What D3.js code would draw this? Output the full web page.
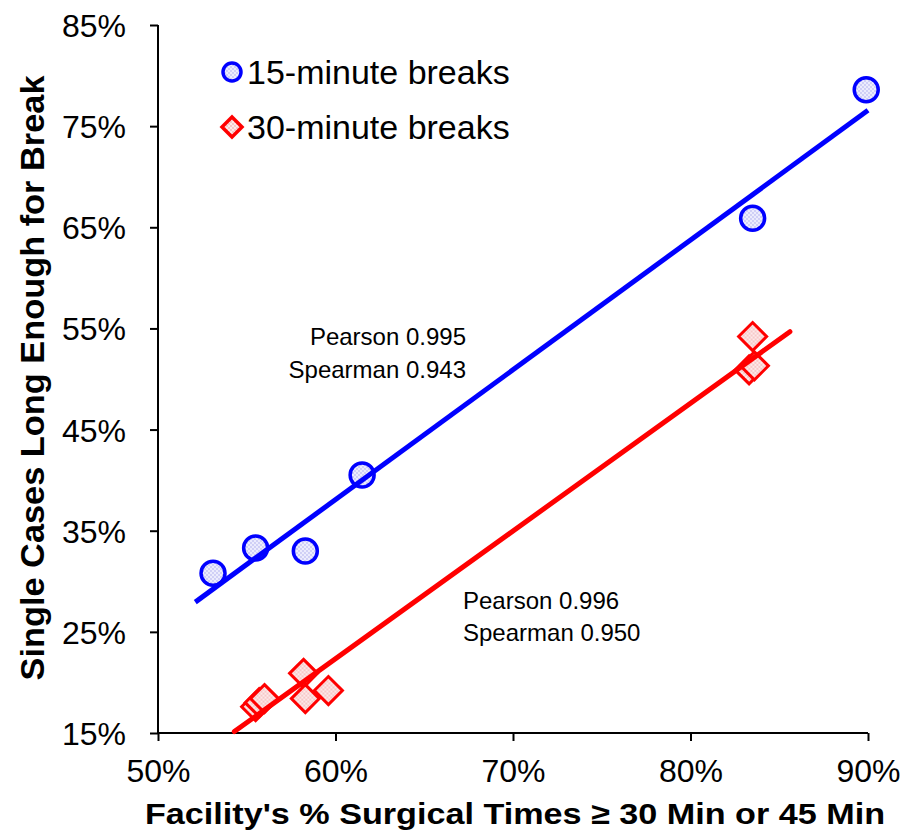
<!DOCTYPE html>
<html>
<head>
<meta charset="utf-8">
<script src="https://cdn.jsdelivr.net/npm/d3@7"></script>
<style>
  body { margin: 0; background: #fff; }
  text { font-family: "Liberation Sans", Arial, sans-serif; }
</style>
</head>
<body>
<div id="chart"></div>
<script>
// facility % of surgical times >= threshold (x) vs single cases long enough (y)
var x15 = [53.1, 55.5, 58.3, 61.5, 83.5, 89.9];
var y15 = [30.8, 33.3, 33.0, 40.5, 65.9, 78.6];
var x30 = [55.5, 55.7, 56.0, 58.2, 58.3, 59.6, 83.5, 83.3, 83.6];
var y30 = [17.6, 18.0, 18.4, 20.9, 18.4, 19.2, 54.2, 50.9, 51.3];
// x extent over which each trend line is drawn
var trendRange15 = [52.1, 90.0];
var trendRange30 = [54.3, 85.6];
var xTicks = [50, 60, 70, 80, 90];
var yTicks = [15, 25, 35, 45, 55, 65, 75, 85];
var seriesNames = ["15-minute breaks", "30-minute breaks"];
var stats15 = ["Pearson 0.995", "Spearman 0.943"];
var stats30 = ["Pearson 0.996", "Spearman 0.950"];

var width = 912, height = 831;
var margin = {top: 25, right: 44, bottom: 98, left: 158};

var svg = d3.select("#chart").append("svg")
    .attr("width", width)
    .attr("height", height);

var defs = svg.append("defs");
function makePattern(id, bg, dot) {
    var p = defs.append("pattern").attr("id", id)
        .attr("patternUnits", "userSpaceOnUse")
        .attr("width", 4).attr("height", 4);
    p.append("rect").attr("width", 4).attr("height", 4).attr("fill", bg);
    p.append("circle").attr("cx", 1).attr("cy", 1).attr("r", 0.9).attr("fill", dot);
    p.append("circle").attr("cx", 3).attr("cy", 3).attr("r", 0.9).attr("fill", dot);
}
makePattern("pBlue", "#ececfd", "#c2c2f4");
makePattern("pRed", "#fdeaea", "#f3b8b8");

var x = d3.scaleLinear().domain([50, 90]).range([margin.left, width - margin.right]);
var y = d3.scaleLinear().domain([15, 85]).range([height - margin.bottom, margin.top]);

// axes
var xAxis = svg.append("g")
    .attr("transform", "translate(0," + (height - margin.bottom) + ")")
    .call(d3.axisBottom(x).tickValues(xTicks).tickSize(8).tickPadding(18)
        .tickFormat(function (d) { return d + "%"; }));
var yAxis = svg.append("g")
    .attr("transform", "translate(" + margin.left + ",0)")
    .call(d3.axisLeft(y).tickValues(yTicks).tickSize(8).tickPadding(24)
        .tickFormat(function (d) { return d + "%"; }));
[xAxis, yAxis].forEach(function (a) {
    a.select(".domain").attr("stroke", "#000").attr("stroke-width", 2);
    a.selectAll(".tick line").attr("stroke", "#000").attr("stroke-width", 2);
    a.selectAll(".tick text").attr("fill", "#000")
        .style("font-size", "32px")
        .style("font-family", "'Liberation Sans', Arial, sans-serif");
});
xAxis.select(".domain").attr("d", "M" + x(50) + ",0H" + x(90));
yAxis.select(".domain").attr("d", "M0," + y(85) + "V" + y(15));
yAxis.selectAll(".tick text").attr("dy", "0.36em");

// axis titles
svg.append("text")
    .attr("x", (x(50) + x(90)) / 2 + 2)
    .attr("y", 824)
    .attr("text-anchor", "middle")
    .style("font-size", "30px").style("font-weight", "bold")
    .attr("textLength", 740).attr("lengthAdjust", "spacingAndGlyphs")
    .text("Facility's % Surgical Times \u2265 30 Min or 45 Min");
svg.append("text")
    .attr("transform", "translate(44," + 378 + ") rotate(-90)")
    .attr("text-anchor", "middle")
    .style("font-size", "34px").style("font-weight", "bold")
    .attr("textLength", 605).attr("lengthAdjust", "spacingAndGlyphs")
    .text("Single Cases Long Enough for Break");

// regression trend line
function fit(xs, ys) {
    var mx = d3.mean(xs), my = d3.mean(ys);
    var sxy = d3.sum(xs, function (v, i) { return (v - mx) * (ys[i] - my); });
    var sxx = d3.sum(xs, function (v) { return (v - mx) * (v - mx); });
    var b = sxy / sxx;
    return function (v) { return my + b * (v - mx); };
}

var diamond = function (s) {
    return "M0," + (-s) + "L" + s + ",0L0," + s + "L" + (-s) + ",0Z";
};

// markers
svg.append("g").selectAll("path")
    .data(x30.map(function (v, i) { return [v, y30[i]]; }))
    .enter().append("path")
    .attr("transform", function (d) { return "translate(" + x(d[0]) + "," + y(d[1]) + ")"; })
    .attr("d", diamond(14))
    .attr("fill", "url(#pRed)")
    .attr("stroke", "#ff0000")
    .attr("stroke-width", 3);

svg.append("g").selectAll("circle")
    .data(x15.map(function (v, i) { return [v, y15[i]]; }))
    .enter().append("circle")
    .attr("cx", function (d) { return x(d[0]); })
    .attr("cy", function (d) { return y(d[1]); })
    .attr("r", 12)
    .attr("fill", "url(#pBlue)")
    .attr("stroke", "#0000ff")
    .attr("stroke-width", 3.5);

var line = d3.line().x(function (d) { return x(d[0]); }).y(function (d) { return y(d[1]); });
var f15 = fit(x15, y15), f30 = fit(x30, y30);
svg.append("path")
    .datum(trendRange15.map(function (v) { return [v, f15(v)]; }))
    .attr("d", line).attr("fill", "none")
    .attr("stroke", "#0000ff").attr("stroke-width", 5);
svg.append("path")
    .datum(trendRange30.map(function (v) { return [v, f30(v)]; }))
    .attr("d", line).attr("fill", "none")
    .attr("stroke", "#ff0000").attr("stroke-width", 5).attr("stroke-linecap", "round");

// legend
var legend = svg.append("g");
legend.append("circle").attr("cx", 232).attr("cy", 72).attr("r", 9)
    .attr("fill", "url(#pBlue)").attr("stroke", "#0000ff").attr("stroke-width", 3.5);
legend.append("path").attr("transform", "translate(232,127)").attr("d", diamond(10))
    .attr("fill", "url(#pRed)").attr("stroke", "#ff0000").attr("stroke-width", 3.5);
legend.selectAll("text").data(seriesNames).enter().append("text")
    .attr("x", 247)
    .attr("y", function (d, i) { return 84 + i * 55; })
    .style("font-size", "34px")
    .text(function (d) { return d; });

// correlation notes
svg.append("g").selectAll("text").data(stats15).enter().append("text")
    .attr("x", 466)
    .attr("y", function (d, i) { return 345 + i * 33; })
    .attr("text-anchor", "end")
    .style("font-size", "24px")
    .text(function (d) { return d; });
svg.append("g").selectAll("text").data(stats30).enter().append("text")
    .attr("x", 463)
    .attr("y", function (d, i) { return 609 + i * 32; })
    .style("font-size", "24px")
    .text(function (d) { return d; });
</script>
</body>
</html>
